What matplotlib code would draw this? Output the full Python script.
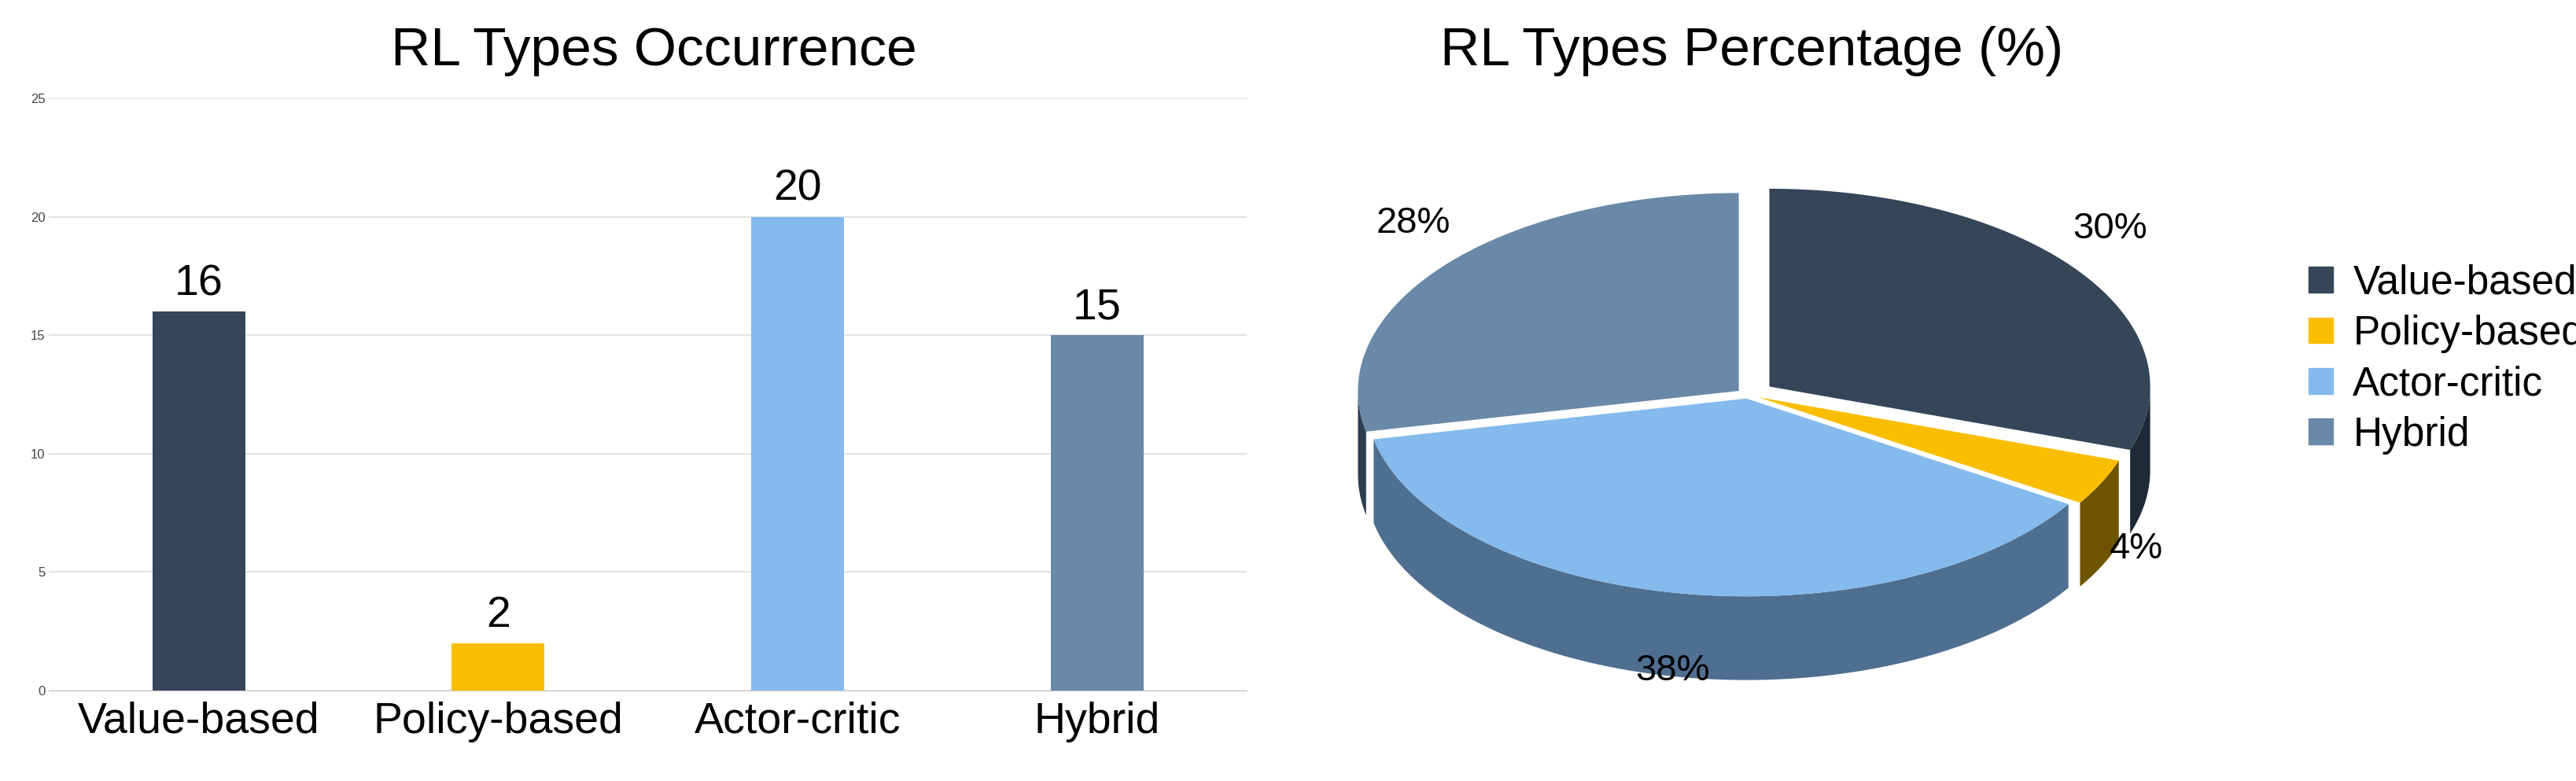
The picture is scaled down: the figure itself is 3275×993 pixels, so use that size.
import numpy as np
import matplotlib.pyplot as plt
from matplotlib.patches import Patch

types = ["Value-based", "Policy-based", "Actor-critic", "Hybrid"]
counts = [16, 2, 20, 15]
colors = ["#344658", "#F9BE00", "#85BAEC", "#6A89A8"]
side_colors = ["#1F2A36", "#6E5400", "#4F6F91", "#2C3E50"]
explode = [0.07, 0.03, 0.02, 0.03]

plt.rcParams["font.family"] = ["Liberation Sans", "DejaVu Sans"]
fig = plt.figure(figsize=(32.75, 9.93), dpi=100)

# bar chart
ax = fig.add_axes([0.019, 0.116, 0.465, 0.758])
x = np.arange(len(types))
ax.bar(x, counts, width=0.31, color=colors, zorder=3)
for xi, c in zip(x, counts):
    ax.text(xi, c + 0.3, str(c), ha="center", va="bottom", fontsize=40)
ax.set_xticks(x)
ax.set_xticklabels(types, fontsize=40)
ax.set_ylim(0, 25)
ax.set_xlim(-0.5, 3.5)
ax.set_yticks(range(0, 26, 5))
ax.tick_params(axis="y", labelsize=12, length=0, colors="#444444")
ax.tick_params(axis="x", length=0, pad=10)
ax.grid(axis="y", color="#dddddd", linewidth=1.2, zorder=0)
for s in ["top", "right", "left"]:
    ax.spines[s].set_visible(False)
ax.spines["bottom"].set_color("#cccccc")
fig.text(0.254, 0.935, "RL Types Occurrence", ha="center", va="center", fontsize=50)

# pseudo-3D pie
pax = fig.add_axes([0.50, 0.05, 0.36, 0.85])
pax.set_xlim(-1.207, 1.228)
pax.set_ylim(-0.913, 0.832)
pax.axis("off")
sq, depth = 0.52, 0.22
total = sum(counts)
fracs = [c / total for c in counts]
starts = []
a = 90.0
for f in fracs:
    starts.append((a, a - 360 * f))
    a -= 360 * f

sides, tops, labels = [], [], []
for (a0, a1), col, scol, ex, f in zip(starts, colors, side_colors, explode, fracs):
    mid = np.radians((a0 + a1) / 2)
    ox, oy = ex * np.cos(mid), ex * np.sin(mid) * sq
    th = np.radians(np.linspace(a0, a1, 200))
    xs, ys = ox + np.cos(th), oy + np.sin(th) * sq
    front = np.sin(th) < 0
    if front.any():
        fx, fy = xs[front], ys[front]
        sides.append((np.concatenate([fx, fx[::-1]]),
                      np.concatenate([fy, fy[::-1] - depth]), scol))
    tops.append((np.concatenate([[ox], xs]), np.concatenate([[oy], ys]), col))
    lr = 1.1
    ly = np.sin(mid) * sq * lr + oy
    if np.sin(mid) < 0:
        ly -= depth * 0.7
    else:
        ly += 0.08
    labels.append((ox + np.cos(mid) * lr, ly, f"{round(f * 100)}%"))

for sx, sy, c in sides:
    pax.fill(sx, sy, color=c, lw=0)
for tx, ty, c in tops:
    pax.fill(tx, ty, color=c, lw=0)
for lx, ly, t in labels:
    pax.text(lx, ly, t, ha="center", va="center", fontsize=34)

fig.text(0.68, 0.935, "RL Types Percentage (%)", ha="center", va="center", fontsize=50)
handles = [Patch(color=c) for c in colors]
fig.legend(handles, types, loc="center left", bbox_to_anchor=(0.882, 0.54),
           frameon=False, fontsize=37, handlelength=0.6, handleheight=0.6,
           handletextpad=0.5, labelspacing=0.3)

fig.savefig("out.png", dpi=100)
